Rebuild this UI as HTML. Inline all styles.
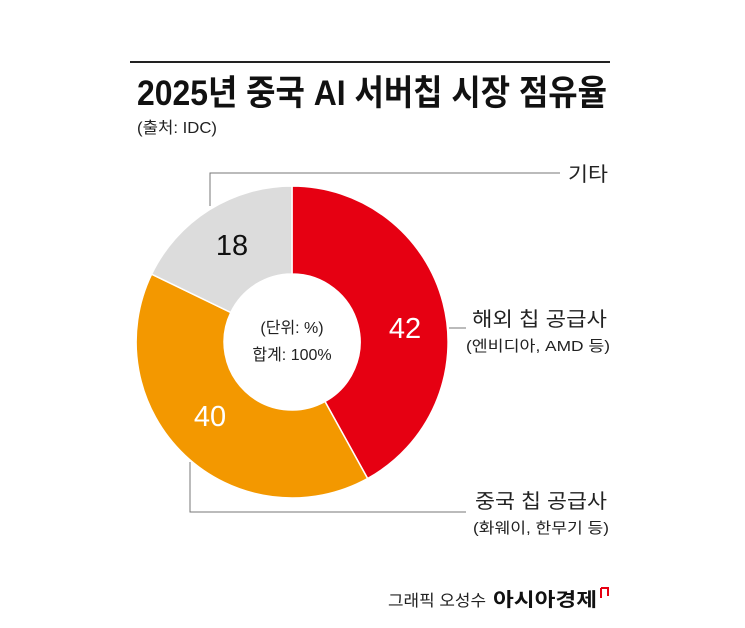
<!DOCTYPE html>
<html><head><meta charset="utf-8"><style>
html,body{margin:0;padding:0;background:#fff;}
svg{display:block;font-family:"Liberation Sans","Noto Sans CJK KR",sans-serif;}
</style></head><body>
<svg width="745" height="628" viewBox="0 0 745 628" xmlns="http://www.w3.org/2000/svg">
<rect width="745" height="628" fill="#fff"/>
<line x1="130" y1="62" x2="610" y2="62" stroke="#222" stroke-width="2"/>
<text x="137" y="105" font-size="35" font-weight="bold" fill="#111" textLength="470" lengthAdjust="spacingAndGlyphs">2025년 중국 AI 서버칩 시장 점유율</text>
<text x="137" y="133" font-size="16" fill="#222" textLength="80" lengthAdjust="spacingAndGlyphs">(출처: IDC)</text>
<!-- leader lines -->
<polyline points="210,206 210,173 560,173" fill="none" stroke="#777" stroke-width="1"/>
<line x1="449" y1="328" x2="466" y2="328" stroke="#777" stroke-width="1"/>
<polyline points="190,462 190,512 466,512" fill="none" stroke="#777" stroke-width="1"/>
<!-- donut: cx 292 cy 342 R 156 r 68 -->
<g stroke="#fff" stroke-width="1.5">
<path d="M292,186 A156,156 0 0 1 367.6,478.5 L325,401.5 A68,68 0 0 0 292,274 Z" fill="#e60012"/>
<path d="M367.6,478.5 A156,156 0 0 1 151.6,274.2 L230.8,312.5 A68,68 0 0 0 325,401.5 Z" fill="#f39800"/>
<path d="M151.6,274.2 A156,156 0 0 1 292,186 L292,274 A68,68 0 0 0 230.8,312.5 Z" fill="#dcdcdc"/>
</g>
<text x="232" y="255" font-size="29" fill="#111" text-anchor="middle">18</text>
<text x="405" y="338" font-size="29" fill="#fff" text-anchor="middle">42</text>
<text x="210" y="426" font-size="29" fill="#fff" text-anchor="middle">40</text>
<text x="292" y="333" font-size="16" fill="#222" text-anchor="middle">(단위: %)</text>
<text x="292" y="360" font-size="16" fill="#222" text-anchor="middle">합계: 100%</text>
<text x="568" y="181" font-size="20" fill="#222" textLength="40" lengthAdjust="spacingAndGlyphs">기타</text>
<text x="472" y="326" font-size="20" fill="#222" textLength="135" lengthAdjust="spacingAndGlyphs">해외 칩 공급사</text>
<text x="466" y="351" font-size="15" fill="#222" textLength="144" lengthAdjust="spacingAndGlyphs">(엔비디아, AMD 등)</text>
<text x="475" y="508" font-size="20" fill="#222" textLength="132" lengthAdjust="spacingAndGlyphs">중국 칩 공급사</text>
<text x="473" y="533" font-size="15" fill="#222" textLength="136" lengthAdjust="spacingAndGlyphs">(화웨이, 한무기 등)</text>
<text x="388" y="606" font-size="16" fill="#222" textLength="98" lengthAdjust="spacingAndGlyphs">그래픽 오성수</text>
<text x="493" y="606" font-size="19" font-weight="bold" fill="#111" textLength="104" lengthAdjust="spacingAndGlyphs">아시아경제</text>
<path d="M601,588 L608,588 L608,596 M601,588 L601,598" fill="none" stroke="#e60012" stroke-width="2"/>
</svg>
</body></html>
